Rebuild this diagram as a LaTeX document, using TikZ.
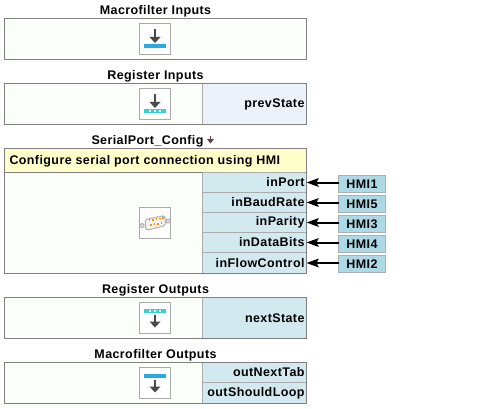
\documentclass[tikz,border=0pt]{standalone}
\usepackage{fontspec}
\setmainfont[LetterSpace=3.2]{Liberation Sans}
\usetikzlibrary{arrows.meta}
\definecolor{bodyfill}{HTML}{FAFFFA}
\definecolor{cellblue}{HTML}{D2E9EF}
\definecolor{celllav}{HTML}{EDF1FA}
\definecolor{titlefill}{HTML}{FFFFCC}
\definecolor{hmifill}{HTML}{ADD8E6}
\definecolor{hmiline}{HTML}{A9B0B5}
\definecolor{edge}{HTML}{808080}
\definecolor{divider}{HTML}{ABABAB}
\definecolor{darrow}{HTML}{4A4A4A}
\definecolor{barblue}{HTML}{29A9E1}
\definecolor{barteal}{HTML}{3CCFCF}
\tikzset{
 x=1pt,y=-1pt,
 every node/.style={outer sep=0pt},
 lbl/.style={font=\fontsize{12.5}{14}\selectfont\bfseries,inner sep=0pt},
 panel/.style={draw=edge,line width=1pt,fill=bodyfill,rectangle,inner sep=0pt,minimum width=302pt,anchor=north west},
 cell/.style={draw=divider,line width=1pt,fill=cellblue,rectangle,inner sep=0pt,minimum width=104pt,anchor=north west,text width=100pt,align=right,font=\fontsize{12.5}{14}\selectfont\bfseries},
 iconbox/.style={draw=divider,line width=1pt,fill=white,rectangle,inner sep=0pt,minimum size=31pt},
 hmi/.style={draw=hmiline,line width=1pt,fill=hmifill,rectangle,inner sep=0pt,minimum width=47pt,minimum height=17pt,font=\fontsize{12.5}{14}\selectfont\bfseries},
 conn/.style={line width=2pt,-{Stealth[length=12pt,width=8.5pt,inset=2pt]},black},
 shaft/.style={line width=2.6pt,draw=darrow},
 head/.style={fill=darrow,draw=none}
}
\newcommand{\iconarrow}[3]{% x centre, y top, y tip (pointing down)
 \draw[shaft] (#1,#2) -- (#1,#3-4);
 \fill[head] (#1-5.5,#3-6) -- (#1+5.5,#3-6) -- (#1,#3) -- cycle;
}
\begin{document}
\begin{tikzpicture}
\useasboundingbox (0,0) rectangle (500,409);
\fill[white] (0,0) rectangle (500,409);

% Macrofilter Inputs
\node[lbl] (t1) at (155.5,11) {Macrofilter Inputs};
\node[panel,minimum height=41pt] (p1) at (4.5,18.5) {};
\node[iconbox] (i1) at (155,39) {};
\iconarrow{155}{29.5}{43}
\fill[barblue] (144,44) rectangle (166,48);

% Register Inputs
\node[lbl] (t2) at (155.5,76) {Register Inputs};
\node[panel,minimum height=41pt] (p2) at (4.5,83.5) {};
\node[cell,fill=celllav,minimum height=41pt,draw=none] (prev) at (202.5,83.5) {prevState};
\draw[divider,line width=1pt] (202.5,84) -- (202.5,124);
\draw[edge,line width=1pt] (p2.north west) rectangle (p2.south east);
\node[iconbox] (i2) at (155,104) {};
\iconarrow{155}{94.5}{108}
\fill[barteal] (144,109) rectangle (166,113);
\foreach \dx in {150,155,160}{\fill[white] (\dx-1,110) rectangle (\dx+1,112);}

% SerialPort_Config
\node[lbl,anchor=west] (t3) at (91.5,141) {SerialPort\_Config};
\draw[line width=1.6pt,draw=darrow!80!red] (210.5,136) -- (210.5,140);
\fill[darrow!80!red] (207,139) -- (214,139) -- (210.5,143.5) -- cycle;
\node[panel,minimum height=125pt] (p3) at (4.5,148.5) {};
\node[draw=edge,line width=1pt,fill=titlefill,rectangle,minimum width=302pt,minimum height=24pt,inner sep=0pt,anchor=north west] (head3) at (4.5,148.5) {};
\node[lbl,anchor=west] (ht) at (9.5,161) {Configure serial port connection using HMI};
\node[cell,minimum height=20pt] (c1) at (202.5,172.5) {inPort};
\node[cell,minimum height=20pt] (c2) at (202.5,192.5) {inBaudRate};
\node[cell,minimum height=20pt] (c3) at (202.5,212.5) {inParity};
\node[cell,minimum height=20pt] (c4) at (202.5,232.5) {inDataBits};
\node[cell,minimum height=21pt] (c5) at (202.5,252.5) {inFlowControl};
\draw[edge,line width=1pt] (p3.north west) rectangle (p3.south east);
\node[iconbox] (i3) at (155,223) {};
% serial connector glyph
\fill[gray!55] (142,225.5) circle (2.6);
\fill[gray!55] (168,221) circle (2.6);
\fill[white] (142,225.5) circle (1);
\fill[white] (168,221) circle (1);
\draw[gray!60,fill=gray!10,line width=1pt,rounded corners=2.5pt] (145,219.5) -- (165,215.5) -- (165.5,225.5) -- (146,230.5) -- cycle;
\foreach \px/\py in {149.5/220.3,153/219.7,156.5/219.1,160/218.5,163/217.9,151/225,154.5/224.3,158/223.6,161.5/222.9}{\fill[orange!85!yellow] (\px-0.9,\py-0.9) rectangle (\px+0.9,\py+0.9);}
\node[hmi] (h1) at (362,184) {HMI1};
\node[hmi] (h5) at (362,204) {HMI5};
\node[hmi] (h3) at (362,224) {HMI3};
\node[hmi] (h4) at (362,244) {HMI4};
\node[hmi] (h2) at (362,264) {HMI2};
\draw[conn,yshift=-0.5pt] (h1.west |- c1.east) -- (c1.east);
\draw[conn,yshift=-0.5pt] (h5.west |- c2.east) -- (c2.east);
\draw[conn,yshift=-0.5pt] (h3.west |- c3.east) -- (c3.east);
\draw[conn,yshift=-0.5pt] (h4.west |- c4.east) -- (c4.east);
\draw[conn] (h2.west |- c5.east) -- (c5.east);

% Register Outputs
\node[lbl] (t4) at (155.5,290) {Register Outputs};
\node[panel,minimum height=41pt] (p4) at (4.5,297.5) {};
\node[cell,minimum height=41pt,draw=none] (next) at (202.5,297.5) {nextState};
\draw[divider,line width=1pt] (202.5,298) -- (202.5,338);
\draw[edge,line width=1pt] (p4.north west) rectangle (p4.south east);
\node[iconbox] (i4) at (155,318) {};
\fill[barteal] (144,309) rectangle (166,313);
\foreach \dx in {150,155,160}{\fill[white] (\dx-1,310) rectangle (\dx+1,312);}
\iconarrow{155}{314.5}{327.5}

% Macrofilter Outputs
\node[lbl] (t5) at (155.5,355) {Macrofilter Outputs};
\node[panel,minimum height=41pt] (p5) at (4.5,362.5) {};
\node[cell,minimum height=20pt] (o1) at (202.5,362.5) {outNextTab};
\node[cell,minimum height=21pt] (o2) at (202.5,382.5) {outShouldLoop};
\draw[edge,line width=1pt] (p5.north west) rectangle (p5.south east);
\node[iconbox] (i5) at (155,383) {};
\fill[barblue] (144,374) rectangle (166,378);
\iconarrow{155}{379.5}{392.5}
\end{tikzpicture}
\end{document}
